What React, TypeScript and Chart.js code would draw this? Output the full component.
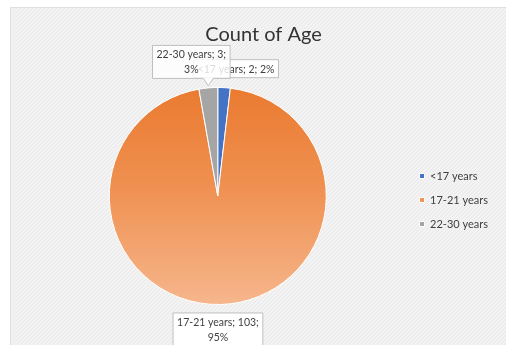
import React, { useEffect, useRef } from "react";
import { Chart, registerables } from "chart.js";

Chart.register(...registerables);

const chartTitle = "Count of Age";
const categories = ["<17 years", "17-21 years", "22-30 years"];
const counts = [2, 103, 3];
const sliceColors = ["#4472C4", "#ED7D31", "#A5A5A5"];

// label layout: offset of label box centre from slice outer mid-point, wrap width, pointer
const labelOffsets = [
  { dx: 12, dy: -19, wrap: 90, pointer: false },
  { dx: -3, dy: 25, wrap: 88, pointer: false },
  { dx: -17, dy: -26, wrap: 70, pointer: true },
];
const drawOrder = [0, 1, 2];
const FONT = "Lato, 'Open Sans', sans-serif";

function wrapText(ctx: CanvasRenderingContext2D, text: string, maxW: number): string[] {
  const words = text.split(" ");
  const lines: string[] = [];
  let cur = "";
  for (const w of words) {
    const test = cur ? cur + " " + w : w;
    if (ctx.measureText(test).width > maxW && cur) {
      lines.push(cur);
      cur = w;
    } else cur = test;
  }
  if (cur) lines.push(cur);
  return lines;
}

let patternCache: CanvasPattern | null = null;
function getPattern(ctx: CanvasRenderingContext2D) {
  if (patternCache) return patternCache;
  const c = document.createElement("canvas");
  c.width = 4;
  c.height = 4;
  const p = c.getContext("2d")!;
  p.fillStyle = "#F3F3F3";
  p.fillRect(0, 0, 4, 4);
  p.fillStyle = "#E8E8E8";
  for (let i = 0; i < 4; i++) p.fillRect(i, 3 - i, 1, 1);
  patternCache = ctx.createPattern(c, "repeat");
  return patternCache;
}

const backgroundPlugin = {
  id: "bgPattern",
  beforeDraw(chart: any) {
    const ctx = chart.ctx as CanvasRenderingContext2D;
    ctx.save();
    ctx.fillStyle = getPattern(ctx) || "#F2F2F2";
    ctx.fillRect(0, 0, chart.width, chart.height);
    ctx.strokeStyle = "#E0E0E0";
    ctx.lineWidth = 1;
    ctx.strokeRect(0.5, 0.5, chart.width, chart.height);
    ctx.restore();
  },
};

const calloutPlugin = {
  id: "callouts",
  afterDatasetsDraw(chart: any) {
    const ctx = chart.ctx as CanvasRenderingContext2D;
    const meta = chart.getDatasetMeta(0);
    const data = chart.data.datasets[0].data as number[];
    const total = data.reduce((a, b) => a + b, 0);
    ctx.save();
    ctx.font = `10.5px ${FONT}`;
    ctx.textAlign = "center";
    ctx.textBaseline = "middle";
    for (const i of drawOrder) {
      const arc = meta.data[i];
      const { x, y, startAngle, endAngle, outerRadius } = arc.getProps(
        ["x", "y", "startAngle", "endAngle", "outerRadius"],
        true
      );
      const mid = (startAngle + endAngle) / 2;
      const px = x + Math.cos(mid) * outerRadius;
      const py = y + Math.sin(mid) * outerRadius;
      const lay = labelOffsets[i];
      const pct = Math.round((data[i] / total) * 100);
      const text = `${chart.data.labels[i]}; ${data[i]}; ${pct}%`;
      const lines = wrapText(ctx, text, lay.wrap);
      const lh = 15;
      const tw = Math.max(...lines.map((l) => ctx.measureText(l).width));
      const bw = tw + 8;
      const bh = lines.length * lh + 3;
      const cx = px + lay.dx;
      const cy = py + lay.dy;
      const l = cx - bw / 2;
      const t = cy - bh / 2;
      ctx.beginPath();
      ctx.moveTo(l, t);
      ctx.lineTo(l + bw, t);
      ctx.lineTo(l + bw, t + bh);
      if (lay.pointer) {
        const bx = Math.min(Math.max(px, l + 10), l + bw - 4);
        ctx.lineTo(bx + 5, t + bh);
        ctx.lineTo(px, py - 2);
        ctx.lineTo(bx - 5, t + bh);
      }
      ctx.lineTo(l, t + bh);
      ctx.closePath();
      ctx.fillStyle = i === 2 ? "rgba(255,255,255,0.82)" : "#FFFFFF";
      ctx.fill();
      ctx.strokeStyle = "#BFBFBF";
      ctx.lineWidth = 1;
      ctx.stroke();
      ctx.fillStyle = "#404040";
      lines.forEach((ln, k) => {
        ctx.fillText(ln, cx, t + 2 + lh / 2 + k * lh);
      });
    }
    ctx.restore();
  },
};

export default function App() {
  const ref = useRef<HTMLCanvasElement | null>(null);
  useEffect(() => {
    const canvas = ref.current!;
    const chart = new Chart(canvas, {
      type: "pie",
      data: {
        labels: categories,
        datasets: [
          {
            data: counts,
            backgroundColor: (c: any) => {
              const i = c.dataIndex;
              if (i !== 1) return sliceColors[i];
              const ca = c.chart.chartArea;
              if (!ca) return sliceColors[1];
              const g = c.chart.ctx.createLinearGradient(0, ca.top, 0, ca.bottom);
              g.addColorStop(0, "#EA7A30");
              g.addColorStop(0.45, "#EF9050");
              g.addColorStop(1, "#F6B68C");
              return g;
            },
            borderColor: "#FFFFFF",
            borderWidth: 1,
          },
        ],
      },
      options: {
        responsive: false,
        animation: false,
        layout: { padding: { left: 19, right: 8, top: 0, bottom: 40 } },
        plugins: {
          title: {
            display: true,
            text: chartTitle,
            color: "#333333",
            font: { family: FONT, size: 20, weight: "normal" },
            padding: { top: 16, bottom: 40 },
          },
          legend: {
            position: "right",
            title: {
              display: true,
              text: " ",
              font: { family: FONT, size: 10 },
              padding: { top: 76, bottom: 0 },
            },
            labels: {
              boxWidth: 5,
              boxHeight: 5,
              padding: 13,
              color: "#404040",
              font: { family: FONT, size: 11 },
            },
          },
          tooltip: { enabled: false },
        },
      },
      plugins: [backgroundPlugin, calloutPlugin],
    });
    return () => chart.destroy();
  }, []);
  return (
    <div style={{ position: "fixed", left: 10, top: 7, width: 496, height: 338 }}>
      <canvas ref={ref} width={496} height={338} style={{ width: 496, height: 338 }} />
    </div>
  );
}
